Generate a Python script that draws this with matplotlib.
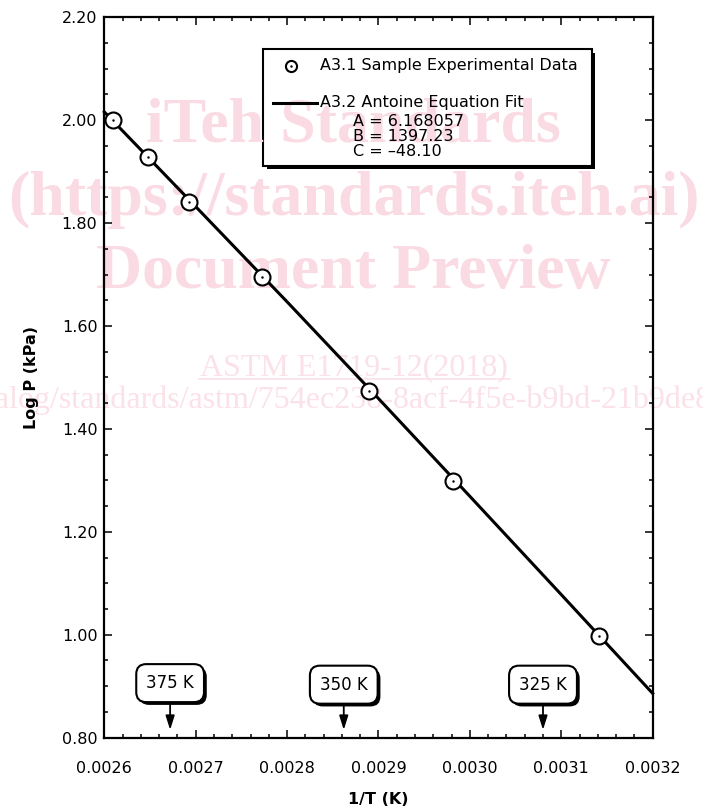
import matplotlib
matplotlib.use("Agg")
import matplotlib.pyplot as plt
import matplotlib.patheffects as pe
from matplotlib.patches import Rectangle
from matplotlib.lines import Line2D
from matplotlib.ticker import MultipleLocator, FormatStrFormatter

# sample experimental data (1/T, log P)
inv_t = [0.002609, 0.002648, 0.002693, 0.002772, 0.002890, 0.002981, 0.003141]
log_p = [2.000, 1.929, 1.841, 1.695, 1.474, 1.298, 0.998]

# antoine fit line
fit_x = [0.0026, 0.0027, 0.0028, 0.0029, 0.0030, 0.0031, 0.0032]
fit_y = [2.016, 1.832, 1.647, 1.459, 1.269, 1.078, 0.886]

# temperature markers
temp_labels = ["375 K", "350 K", "325 K"]
temp_x = [0.002672, 0.002862, 0.003080]
temp_box_y = [0.906, 0.903, 0.903]

legend_lines = ["A = 6.168057", "B = 1397.23", "C = \u201348.10"]

plt.rcParams['font.family'] = ['DejaVu Sans']

fig = plt.figure(figsize=(7.03, 8.10), dpi=100)
ax = fig.add_axes([0.1484, 0.0893, 0.78, 0.8894])

# watermark, drawn inside the axes so it sits under lines/text but over the legend box
wm = '#fadbe4'
wm2 = '#fbe1e8'
serif = ['Liberation Serif', 'DejaVu Serif']
ft = fig.transFigure
for txt, yb in [("iTeh Standards", 142), ("(https://standards.iteh.ai)", 215),
                ("Document Preview", 288)]:
    ax.text(0.503, 1 - yb / 810, txt, transform=ft, ha='center', va='baseline',
            fontsize=46, fontweight='bold', family=serif, color=wm, zorder=1.5,
            clip_on=False)
ax.text(0.503, 1 - 375 / 810, "ASTM E1719-12(2018)", transform=ft, ha='center',
        va='baseline', fontsize=23, family=serif, color=wm2, zorder=1.5, clip_on=False)
ax.add_line(Line2D([199 / 703, 510 / 703], [1 - 379 / 810, 1 - 379 / 810], transform=ft,
                   color=wm2, lw=1.2, zorder=1.5, clip_on=False))
ax.text(1.013, 1 - 408 / 810,
        "https://standards.iteh.ai/catalog/standards/astm/754ec238-8acf-4f5e-b9bd-21b9de8",
        transform=ft, ha='right', va='baseline', fontsize=23, family=serif, color=wm2,
        zorder=1.5, clip_on=False)

# fit line and data
ax.plot(fit_x, fit_y, color='black', lw=2.2, zorder=2, clip_on=False)
ax.plot(inv_t, log_p, linestyle='none', marker='o', ms=11.5, mfc='white',
        mec='black', mew=1.5, zorder=3, clip_on=False)
ax.plot(inv_t, log_p, linestyle='none', marker='.', ms=1.5, color='black', zorder=4,
        clip_on=False)

ax.set_xlim(0.0026, 0.0032)
ax.set_ylim(0.80, 2.20)
ax.xaxis.set_major_locator(MultipleLocator(0.0001))
ax.xaxis.set_minor_locator(MultipleLocator(0.00002))
ax.yaxis.set_major_locator(MultipleLocator(0.2))
ax.yaxis.set_minor_locator(MultipleLocator(0.05))
ax.xaxis.set_major_formatter(FormatStrFormatter('%.4f'))
ax.yaxis.set_major_formatter(FormatStrFormatter('%.2f'))
ax.tick_params(which='both', direction='in', top=True, right=True, width=1.1,
               labelsize=11.5)
ax.tick_params(which='major', length=5.5)
ax.tick_params(which='minor', length=3)
ax.tick_params(axis='x', which='major', pad=17)
ax.tick_params(axis='y', which='major', pad=5)
for s in ax.spines.values():
    s.set_linewidth(1.6)

ax.set_xlabel("1/T (K)", fontsize=11.5, fontweight='bold', labelpad=11)
ax.set_ylabel("Log P (kPa)", fontsize=11.5, fontweight='bold', labelpad=16)

# legend box drawn by hand
shadow = [pe.SimplePatchShadow(offset=(2.5, -2.5), shadow_rgbFace='black', alpha=1),
          pe.Normal()]
box = Rectangle((0.290, 0.7937), 0.5988, 0.1619, transform=ax.transAxes,
                facecolor='white', edgecolor='black', lw=1.5, zorder=1)
box.set_path_effects(shadow)
ax.add_patch(box)
ax.add_line(Line2D([0.3404], [0.9324], transform=ax.transAxes, marker='o', ms=8,
                   mfc='white', mec='black', mew=1.5, zorder=6))
ax.add_line(Line2D([0.3404], [0.9324], transform=ax.transAxes, marker='.', ms=1.5,
                   color='black', zorder=7))
ax.text(0.3933, 0.9324, "A3.1 Sample Experimental Data", transform=ax.transAxes,
        ha='left', va='center', fontsize=11.5, zorder=6)
ax.add_line(Line2D([0.3074, 0.3877], [0.881, 0.881], transform=ax.transAxes,
                   color='black', lw=2.2, zorder=6))
ax.text(0.3933, 0.8819, "A3.2 Antoine Equation Fit", transform=ax.transAxes,
        ha='left', va='center', fontsize=11.5, zorder=6)
for i, s in enumerate(legend_lines):
    ax.text(0.4535, 0.8551 - 0.0209 * i, s, transform=ax.transAxes,
            ha='left', va='center', fontsize=11.5, zorder=6)

# temperature callouts
for lab, tx, ty in zip(temp_labels, temp_x, temp_box_y):
    a = ax.annotate(lab, xy=(tx, 0.815), xytext=(tx, ty), ha='center', va='center',
                    fontsize=12, zorder=6,
                    bbox=dict(boxstyle='round,pad=0.6,rounding_size=0.6',
                              fc='white', ec='black', lw=1.5),
                    arrowprops=dict(arrowstyle='-|>,head_length=0.7,head_width=0.22',
                                    color='black', lw=1.3, shrinkA=0, shrinkB=0))
    a.get_bbox_patch().set_path_effects(
        [pe.SimplePatchShadow(offset=(2, -2), shadow_rgbFace='black', alpha=1),
         pe.Normal()])

fig.savefig("out.png", dpi=100)
